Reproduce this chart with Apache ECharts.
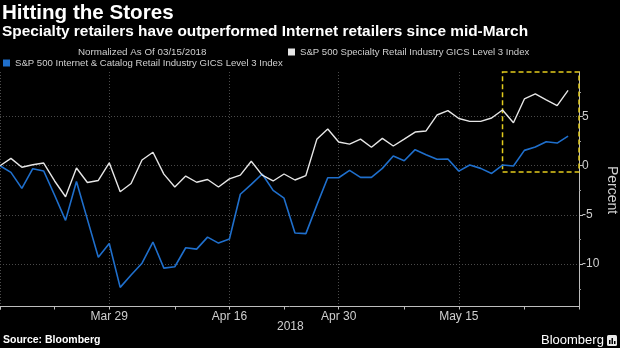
<!DOCTYPE html>
<html>
<head>
<meta charset="utf-8">
<script src="https://cdn.jsdelivr.net/npm/echarts@6/dist/echarts.min.js"></script>
<style>
  html, body { margin: 0; padding: 0; background: #000; }
  #chart { width: 620px; height: 348px; }
</style>
</head>
<body>
<div id="chart"></div>
<script>
// Trading days from the normalization date through the end of May 2018
const dates = [
  'Mar 15', 'Mar 16', 'Mar 19', 'Mar 20', 'Mar 21', 'Mar 22', 'Mar 23', 'Mar 26', 'Mar 27', 'Mar 28',
  'Mar 29', 'Apr 2', 'Apr 3', 'Apr 4', 'Apr 5', 'Apr 6', 'Apr 9', 'Apr 10', 'Apr 11', 'Apr 12',
  'Apr 13', 'Apr 16', 'Apr 17', 'Apr 18', 'Apr 19', 'Apr 20', 'Apr 23', 'Apr 24', 'Apr 25', 'Apr 26',
  'Apr 27', 'Apr 30', 'May 1', 'May 2', 'May 3', 'May 4', 'May 7', 'May 8', 'May 9', 'May 10',
  'May 11', 'May 14', 'May 15', 'May 16', 'May 17', 'May 18', 'May 21', 'May 22', 'May 23', 'May 24',
  'May 25', 'May 29', 'May 30'
];

// Percent change since 03/15/2018
const specialty = [
  0, 0.75, -0.16, 0.1, 0.27, -1.55, -3.15, -0.23, -1.7, -1.5,
  0.3, -2.64, -1.8, 0.58, 1.37, -0.85, -2.16, -1.05, -1.68, -1.4,
  -2.16, -1.33, -0.95, 0.45, -0.95, -1.55, -0.84, -1.45, -1.0, 2.68,
  3.73, 2.41, 2.2, 2.7, 1.87, 2.78, 2.0, 2.7, 3.42, 3.53,
  5.15, 5.6, 4.8, 4.5, 4.5, 4.85, 5.66, 4.37, 6.78, 7.29,
  6.68, 6.1, 7.66
];
const internet = [
  0, -0.68, -2.3, -0.3, -0.54, -3.0, -5.55, -1.6, -5.45, -9.3,
  -7.9, -12.36, -11.1, -9.9, -7.75, -10.4, -10.26, -8.33, -8.47, -7.25,
  -7.86, -7.45, -2.9, -1.9, -0.84, -2.5, -3.3, -6.84, -6.9, -4.0,
  -1.22, -1.22, -0.47, -1.18, -1.18, -0.27, 0.98, 0.51, 1.63, 1.12,
  0.65, 0.68, -0.55, 0.07, -0.27, -0.78, 0.07, -0.03, 1.56, 1.9,
  2.44, 2.3, 3.0
];

const labelDates = ['Mar 29', 'Apr 16', 'Apr 30', 'May 15'];
const minorDates = ['Mar 22', 'Apr 9', 'Apr 23', 'May 8', 'May 23'];
const yLabels = [-10, -5, 0, 5];
const yMinor = [-12.5, -7.5, -2.5, 2.5, 7.5];

const SPECIALTY_NAME = 'S&P 500 Specialty Retail Industry GICS Level 3 Index';
const INTERNET_NAME = 'S&P 500 Internet & Catalog Retail Industry GICS Level 3 Index';

const Y_MIN = -14.3, Y_MAX = 9.52;
const X_MAX = dates.length;
const FONT = 'Liberation Sans, Arial, sans-serif';

const idx = d => dates.indexOf(d);
const labelIdx = labelDates.map(idx);
const minorIdx = [0].concat(minorDates.map(idx), [X_MAX]);

const toPairs = arr => arr.map((v, i) => [i, v]);

const chart = echarts.init(document.getElementById('chart'), null, { renderer: 'canvas' });

const gridLine = { show: true, lineStyle: { color: '#4a4a4a', type: [1, 2], width: 1 } };
const axisColor = '#bdbdbd';

chart.setOption({
  backgroundColor: '#000',
  animation: false,
  grid: { left: 0, right: 41, top: 72, bottom: 41.5, containLabel: false, outerBoundsMode: 'none' },
  legend: [
    {
      data: [SPECIALTY_NAME], left: 288, top: 47, padding: 0,
      icon: 'rect', itemWidth: 7, itemHeight: 7, itemGap: 4,
      textStyle: { color: '#cfcfcf', fontSize: 9.6, fontFamily: FONT }
    },
    {
      data: [INTERNET_NAME], left: 3, top: 58, padding: 0,
      icon: 'rect', itemWidth: 7, itemHeight: 7, itemGap: 4,
      textStyle: { color: '#cfcfcf', fontSize: 9.6, fontFamily: FONT }
    }
  ],
  xAxis: [
    {
      type: 'value', min: 0, max: X_MAX, position: 'bottom',
      axisLine: { show: true, onZero: false, lineStyle: { color: axisColor, width: 1 } },
      axisTick: { show: true, length: 3, customValues: [0].concat(labelIdx), lineStyle: { color: axisColor } },
      axisLabel: {
        customValues: labelIdx, color: '#cfcfcf', fontSize: 12, fontFamily: FONT, margin: 4,
        formatter: v => dates[v]
      },
      splitLine: gridLine
    },
    {
      type: 'value', min: 0, max: X_MAX, position: 'bottom',
      axisLine: { show: false, onZero: false },
      axisTick: { show: true, length: 3, customValues: minorIdx, lineStyle: { color: axisColor } },
      axisLabel: { show: false },
      splitLine: { show: false }
    }
  ],
  yAxis: [
    {
      type: 'value', position: 'right', min: Y_MIN, max: Y_MAX,
      axisLine: { show: true, onZero: false, lineStyle: { color: axisColor, width: 1 } },
      axisTick: { show: true, length: 4, customValues: yLabels, lineStyle: { color: axisColor } },
      axisLabel: { customValues: yLabels, color: '#cfcfcf', fontSize: 12, fontFamily: FONT, margin: 3 },
      splitLine: gridLine
    },
    {
      type: 'value', position: 'right', min: Y_MIN, max: Y_MAX,
      axisLine: { show: false, onZero: false },
      axisTick: { show: true, length: 2, customValues: yMinor, lineStyle: { color: '#9a9a9a' } },
      axisLabel: { show: false },
      splitLine: { show: false }
    }
  ],
  series: [
    {
      name: SPECIALTY_NAME, type: 'line', xAxisIndex: 0, yAxisIndex: 0,
      data: toPairs(specialty), showSymbol: false, symbol: 'none',
      color: '#e6e6e6', lineStyle: { color: '#e6e6e6', width: 1.4 },
      markArea: {
        silent: true,
        itemStyle: { color: 'rgba(0,0,0,0)', borderColor: '#e3cc1c', borderWidth: 1.5, borderType: [5, 3] },
        data: [[{ xAxis: idx('May 21'), yAxis: Y_MAX }, { xAxis: X_MAX, yAxis: -0.65 }]]
      },
      z: 3
    },
    {
      name: INTERNET_NAME, type: 'line', xAxisIndex: 0, yAxisIndex: 0,
      data: toPairs(internet), showSymbol: false, symbol: 'none',
      color: '#1f6fcc', lineStyle: { color: '#1f6fcc', width: 1.6 },
      z: 2
    }
  ],
  graphic: [
    { type: 'text', left: 2, top: 3, style: { text: 'Hitting the Stores', fill: '#fff', font: 'bold 20.6px ' + FONT } },
    { type: 'text', left: 2, top: 24, style: { text: 'Specialty retailers have outperformed Internet retailers since mid-March', fill: '#fff', font: 'bold 15.4px ' + FONT } },
    { type: 'text', left: 78, top: 47, style: { text: 'Normalized As Of 03/15/2018', fill: '#cfcfcf', font: '9.8px ' + FONT } },
    {
      type: 'text', x: 612, y: 190, rotation: -Math.PI / 2,
      style: { text: 'Percent', fill: '#cfcfcf', font: '14px ' + FONT, textAlign: 'center', textVerticalAlign: 'middle' }
    },
    { type: 'text', left: 277, top: 321, style: { text: '2018', fill: '#cfcfcf', font: '12px ' + FONT } },
    { type: 'text', left: 3, top: 335, style: { text: 'Source: Bloomberg', fill: '#fff', font: 'bold 10.5px ' + FONT } },
    { type: 'text', left: 541, top: 334, style: { text: 'Bloomberg', fill: '#fff', font: '13px ' + FONT } },
    { type: 'rect', left: 607, top: 335, shape: { width: 10, height: 11, r: 1.5 }, style: { fill: '#e8e8e8' } },
    { type: 'rect', left: 609, top: 340, shape: { width: 1.5, height: 4 }, style: { fill: '#000' } },
    { type: 'rect', left: 611.5, top: 338, shape: { width: 1.5, height: 6 }, style: { fill: '#000' } },
    { type: 'rect', left: 614, top: 341, shape: { width: 1.5, height: 3 }, style: { fill: '#000' } }
  ]
});
</script>
</body>
</html>
